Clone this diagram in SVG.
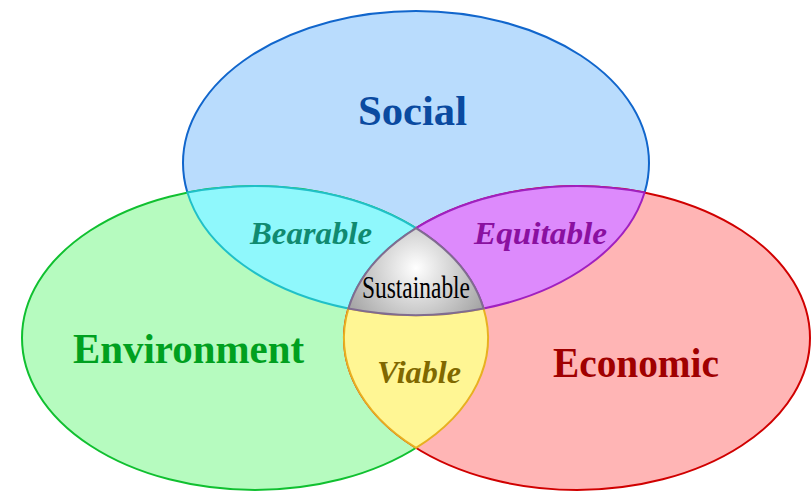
<svg xmlns="http://www.w3.org/2000/svg" width="811" height="491" viewBox="0 0 811 491">
<defs>
<style>
.lbl{font-family:"Liberation Serif","Times New Roman",serif;font-weight:bold;font-size:43px;}
.sub{font-family:"Liberation Serif","Times New Roman",serif;font-weight:bold;font-style:italic;font-size:32px;}
.sus{font-family:"Liberation Serif","Times New Roman",serif;font-size:31px;fill:#000;}
</style>
<radialGradient id="gsus" cx="416" cy="268" r="75" gradientUnits="userSpaceOnUse">
<stop offset="0" stop-color="#ffffff"/>
<stop offset="1" stop-color="#a6a6a6"/>
</radialGradient>
</defs>
<rect width="811" height="491" fill="#ffffff"/>
<g id="social">
<ellipse cx="416" cy="163" rx="233" ry="152" fill="#b9dcfd" stroke="#1166cc" stroke-width="2"/>
</g>
<g id="environment">
<ellipse cx="255" cy="338" rx="233" ry="152" fill="#b6fbbf" stroke="#10c030" stroke-width="2"/>
</g>
<g id="economic">
<ellipse cx="577" cy="338" rx="233" ry="152" fill="#ffb5b5" stroke="#d00000" stroke-width="2"/>
</g>
<g id="bearable">
<path d="M187.43,192.53 A233,152 0 0 1 416,228.1 A233,152 0 0 0 348.43,308.47 A233,152 0 0 1 187.43,192.53 Z" fill="#8ff8fc" stroke="#20c0c8" stroke-width="2"/>
</g>
<g id="equitable">
<path d="M644.57,192.53 A233,152 0 0 0 416,228.1 A233,152 0 0 1 483.57,308.47 A233,152 0 0 0 644.57,192.53 Z" fill="#dd8afc" stroke="#a020c0" stroke-width="2"/>
</g>
<g id="viable">
<path d="M348.43,308.47 A233,152 0 0 0 483.57,308.47 A233,152 0 0 1 416,447.9 A233,152 0 0 1 348.43,308.47 Z" fill="#fff694" stroke="#e8b020" stroke-width="2"/>
</g>
<g id="sustainable">
<path d="M416,228.1 A233,152 0 0 1 483.57,308.47 A233,152 0 0 1 348.43,308.47 A233,152 0 0 1 416,228.1 Z" fill="url(#gsus)" stroke="#806c90" stroke-width="2"/>
</g>
<g id="labels">
<text class="lbl" x="358" y="125" textLength="109" lengthAdjust="spacingAndGlyphs" fill="#0a4aa0">Social</text>
<text class="lbl" x="73" y="363" textLength="231" lengthAdjust="spacingAndGlyphs" fill="#00a020">Environment</text>
<text class="lbl" x="553" y="377" textLength="166" lengthAdjust="spacingAndGlyphs" fill="#a00000">Economic</text>
<text class="sub" x="250" y="244" textLength="122" lengthAdjust="spacingAndGlyphs" fill="#108a70">Bearable</text>
<text class="sub" x="474" y="244" textLength="133" lengthAdjust="spacingAndGlyphs" fill="#8a10a0">Equitable</text>
<text class="sub" x="377" y="383" textLength="84" lengthAdjust="spacingAndGlyphs" fill="#806800">Viable</text>
<text class="sus" x="362" y="298" textLength="108" lengthAdjust="spacingAndGlyphs">Sustainable</text>
</g>
</svg>
